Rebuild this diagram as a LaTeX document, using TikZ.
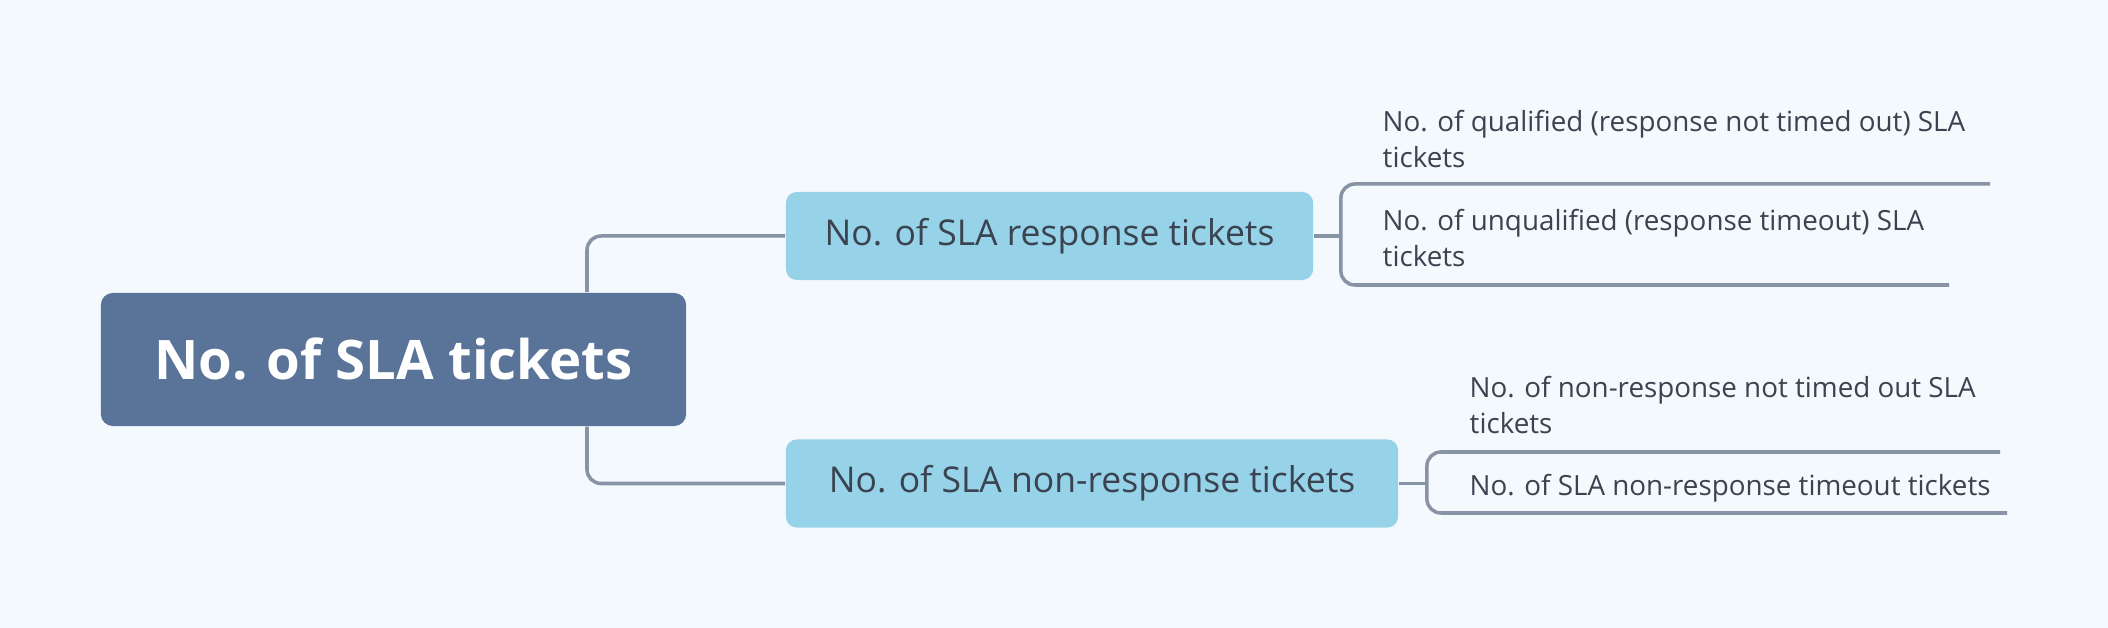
\documentclass[tikz,border=0pt]{standalone}
\usepackage{fontspec}
\setmainfont{Open Sans}
\usetikzlibrary{positioning}

\definecolor{bgcol}{HTML}{F4F9FD}
\definecolor{rootcol}{HTML}{5A7399}
\definecolor{subcol}{HTML}{96D2E8}
\definecolor{linecol}{HTML}{8893A6}
\definecolor{txtcol}{HTML}{3B4350}

\tikzset{
  roottopic/.style={fill=rootcol, rounded corners=0.12cm, text=white,
    minimum width=5.85cm, minimum height=1.33cm,
    font=\fontsize{15.5}{18}\selectfont\bfseries},
  subtopic/.style={fill=subcol, rounded corners=0.11cm, text=txtcol,
    minimum height=0.88cm, font=\fontsize{10.1}{12}\selectfont},
  leaf/.style={anchor=west, inner sep=0pt, align=left, text=txtcol,
    font=\fontsize{7.9}{10.24}\selectfont},
  link/.style={draw=linecol, line width=1pt, rounded corners=0.14cm}
}

\begin{document}
\begin{tikzpicture}[x=0.01cm,y=-0.01cm]

% Background
\fill[bgcol] (0,0) rectangle (2108,628);

% Central topic
\node[roottopic] (root) at (393.5,359.5) {No. of SLA tickets};

% Main branches
\node[subtopic, minimum width=5.27cm] (resp) at (1049.5,236) {No. of SLA response tickets};
\node[subtopic, minimum width=6.12cm] (nonresp) at (1092,483.5) {No. of SLA non-response tickets};

\coordinate (trunk) at (587,360);
\draw[link] (root.north -| trunk) |- (resp.west);
\draw[link] (root.south -| trunk) |- (nonresp.west);

% Response leaves
\coordinate (fork1) at ([xshift=0.27cm]resp.east);
\coordinate (qualend) at (1990,184);
\coordinate (unqualend) at (1949,285);
\node[leaf] (qual) at (1382,139) {No. of qualified (response not timed out) SLA\\tickets};
\node[leaf] (unqual) at (1382,238) {No. of unqualified (response timeout) SLA\\tickets};
\draw[link] (resp.east) -- (fork1);
\draw[link] (qualend) -| (fork1) |- (unqualend);

% Non-response leaves
\coordinate (fork2) at ([xshift=0.28cm]nonresp.east);
\coordinate (notoutend) at (2000,452);
\coordinate (toutend) at (2007,513);
\node[leaf] (notout) at (1469,405) {No. of non-response not timed out SLA\\tickets};
\node[leaf] (tout) at (1469,488) {No. of SLA non-response timeout tickets};
\draw[link] (nonresp.east) -- (fork2);
\draw[link] (notoutend) -| (fork2) |- (toutend);

\end{tikzpicture}
\end{document}
